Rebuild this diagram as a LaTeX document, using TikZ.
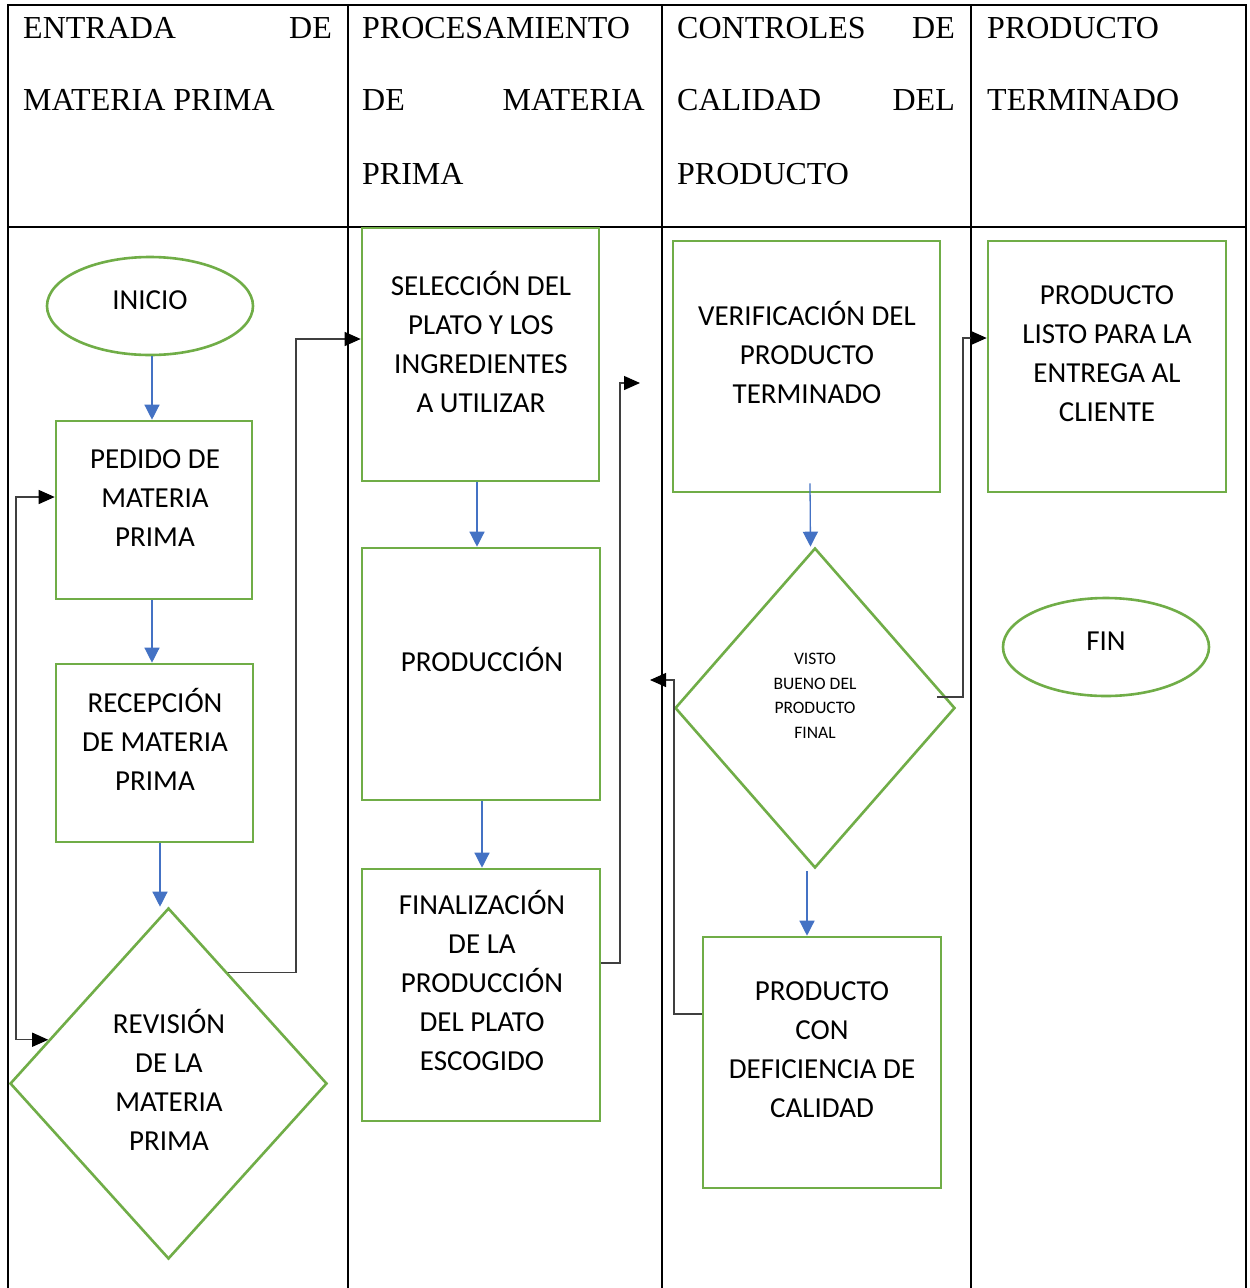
\documentclass[tikz,border=0pt]{standalone}
\usepackage{fontspec}
\setmainfont{Liberation Serif}
\newfontfamily\calfont{Carlito}
\usetikzlibrary{shapes.geometric,arrows.meta,calc}
\definecolor{lgreen}{HTML}{70AD47}
\definecolor{lblue}{HTML}{4472C4}
\definecolor{cgray}{HTML}{3F3F3F}
\begin{document}
\begin{tikzpicture}[x=1pt,y=-1pt,
  frame/.style={draw=black,line width=2pt},
  hdr/.style={inner sep=0pt,font=\fontsize{32}{38}\selectfont},
  gbox/.style={draw=lgreen,line width=2.6pt,rectangle,inner sep=0pt},
  gell/.style={draw=lgreen,line width=2.6pt,ellipse,inner sep=0pt},
  gdia/.style={draw=lgreen,line width=2.6pt,diamond,inner sep=0pt},
  lbl/.style={inner sep=0pt,align=center,font=\calfont\fontsize{29}{39}\selectfont},
  slbl/.style={inner sep=0pt,align=center,font=\calfont\fontsize{17.5}{24.5}\selectfont},
  bluearr/.style={draw=lblue,line width=1.3pt,-{Triangle[length=15pt,width=15pt]}},
  blk/.style={draw=cgray,line width=1.3pt,-{Triangle[length=16pt,width=14pt,color=black]}},
  blkboth/.style={draw=cgray,line width=1.3pt,{Triangle[length=16pt,width=14pt,color=black]}-{Triangle[length=16pt,width=14pt,color=black]}}
]
\useasboundingbox (0,0) rectangle (1250,1288);
\fill[white] (0,0) rectangle (1250,1288);
% table frame
\draw[frame] (8,1290) -- (8,5) -- (1246,5) -- (1246,1290);
\draw[frame] (348,5) -- (348,1290);
\draw[frame] (662,5) -- (662,1290);
\draw[frame] (971,5) -- (971,1290);
\draw[frame] (8,227) -- (1246,227);
% header texts
\node[hdr,anchor=base west] (h1a) at (23,38) {ENTRADA};
\node[hdr,anchor=base east] (h1b) at (332,38) {DE};
\node[hdr,anchor=base west] (h1c) at (23,110) {MATERIA PRIMA};
\node[hdr,anchor=base west] (h2a) at (362,38) {PROCESAMIENTO};
\node[hdr,anchor=base west] (h2b) at (362,110) {DE};
\node[hdr,anchor=base east] (h2c) at (645,110) {MATERIA};
\node[hdr,anchor=base west] (h2d) at (362,184) {PRIMA};
\node[hdr,anchor=base west] (h3a) at (677,38) {CONTROLES};
\node[hdr,anchor=base east] (h3b) at (955,38) {DE};
\node[hdr,anchor=base west] (h3c) at (677,110) {CALIDAD};
\node[hdr,anchor=base east] (h3d) at (955,110) {DEL};
\node[hdr,anchor=base west] (h3e) at (677,184) {PRODUCTO};
\node[hdr,anchor=base west] (h4a) at (987,38) {PRODUCTO};
\node[hdr,anchor=base west] (h4b) at (987,110) {TERMINADO};
% shapes
\node[gell,minimum width=206pt,minimum height=98pt] (inicio) at (150,306) {};
\node[gbox,minimum width=196pt,minimum height=178pt] (pedido) at (154,510) {};
\node[gbox,minimum width=197pt,minimum height=178pt] (recep) at (154.5,753) {};
\node[gdia,minimum width=317pt,minimum height=351pt] (rev) at (168.5,1083.5) {};
\node[gbox,minimum width=237pt,minimum height=253pt] (sel) at (480.5,354.5) {};
\node[gbox,minimum width=238pt,minimum height=252pt] (prod) at (481,674) {};
\node[gbox,minimum width=238pt,minimum height=252pt] (final) at (481,995) {};
\node[gbox,minimum width=267pt,minimum height=251pt] (verif) at (806.5,366.5) {};
\node[gdia,minimum width=280pt,minimum height=320pt] (visto) at (815,708) {};
\node[gbox,minimum width=238pt,minimum height=251pt] (def) at (822,1062.5) {};
\node[gbox,minimum width=238pt,minimum height=251pt] (listo) at (1107,366.5) {};
\node[gell,minimum width=206pt,minimum height=98pt] (fin) at (1106,647) {};
% texts
\node[lbl] (tinicio) at (150,300) {INICIO};
\node[lbl] (tpedido) at (155,498) {PEDIDO DE\\MATERIA\\PRIMA};
\node[lbl] (trecep) at (155,739) {RECEPCIÓN\\DE MATERIA\\PRIMA};
\node[lbl] (trev) at (169,1080) {REVISIÓN\\DE LA\\MATERIA\\PRIMA};
\node[lbl] (tsel) at (481,341.5) {SELECCIÓN DEL\\PLATO Y LOS\\INGREDIENTES\\A UTILIZAR};
\node[lbl] (tprod) at (482,659) {PRODUCCIÓN};
\node[lbl] (tfinal) at (482,980.5) {FINALIZACIÓN\\DE LA\\PRODUCCIÓN\\DEL PLATO\\ESCOGIDO};
\node[lbl] (tverif) at (807,352) {VERIFICACIÓN DEL\\PRODUCTO\\TERMINADO};
\node[slbl] (tvisto) at (815,696) {VISTO\\BUENO DEL\\PRODUCTO\\FINAL};
\node[lbl] (tdef) at (822,1050) {PRODUCTO\\CON\\DEFICIENCIA DE\\CALIDAD};
\node[lbl] (tlisto) at (1107,354) {PRODUCTO\\LISTO PARA LA\\ENTREGA AL\\CLIENTE};
\node[lbl] (tfin) at (1106,641) {FIN};
% blue arrows
\draw[bluearr] ([xshift=2pt]inicio.south) -- ([xshift=-2pt]pedido.north);
\draw[bluearr] ([xshift=-2pt]pedido.south) -- ([xshift=-2pt]pedido.south |- recep.north);
\draw[bluearr] ([xshift=5.5pt]recep.south) -- ([xshift=5.5pt]recep.south |- rev.north);
\draw[bluearr] ([xshift=-3.5pt]sel.south) -- ([xshift=-3.5pt]sel.south |- prod.north);
\draw[bluearr] ([xshift=1pt]prod.south) -- ([xshift=1pt]prod.south |- final.north);
\draw[bluearr] ([xshift=3.5pt,yshift=10pt]verif.south) -- ([xshift=-4.5pt]visto.north);
\draw[bluearr] ([xshift=-8pt,yshift=-2pt]visto.south) -- ([xshift=-8pt]visto.south |- def.north);
% black connectors
\coordinate (jr) at (296,339);
\draw[blk] (rev.62) -| (jr) -- ([yshift=15.5pt]sel.west);
\coordinate (jl) at (16,497);
\draw[blkboth] ([yshift=13pt]pedido.west) -- (jl) |- (rev.160);
\coordinate (ja) at (620,383);
\coordinate (freeA) at (640,383);
\draw[blk] ([yshift=32pt]final.east) -| (ja) -- (freeA);
\coordinate (jb) at (674,680);
\coordinate (freeB) at (650,680);
\draw[blk] ([yshift=48.5pt]def.west) -| (jb) -- (freeB);
\coordinate (jc) at (963,338);
\draw[blk] ([xshift=-19pt,yshift=11pt]visto.east) -| (jc) -- ([yshift=28.5pt]listo.west);
\end{tikzpicture}
\end{document}
